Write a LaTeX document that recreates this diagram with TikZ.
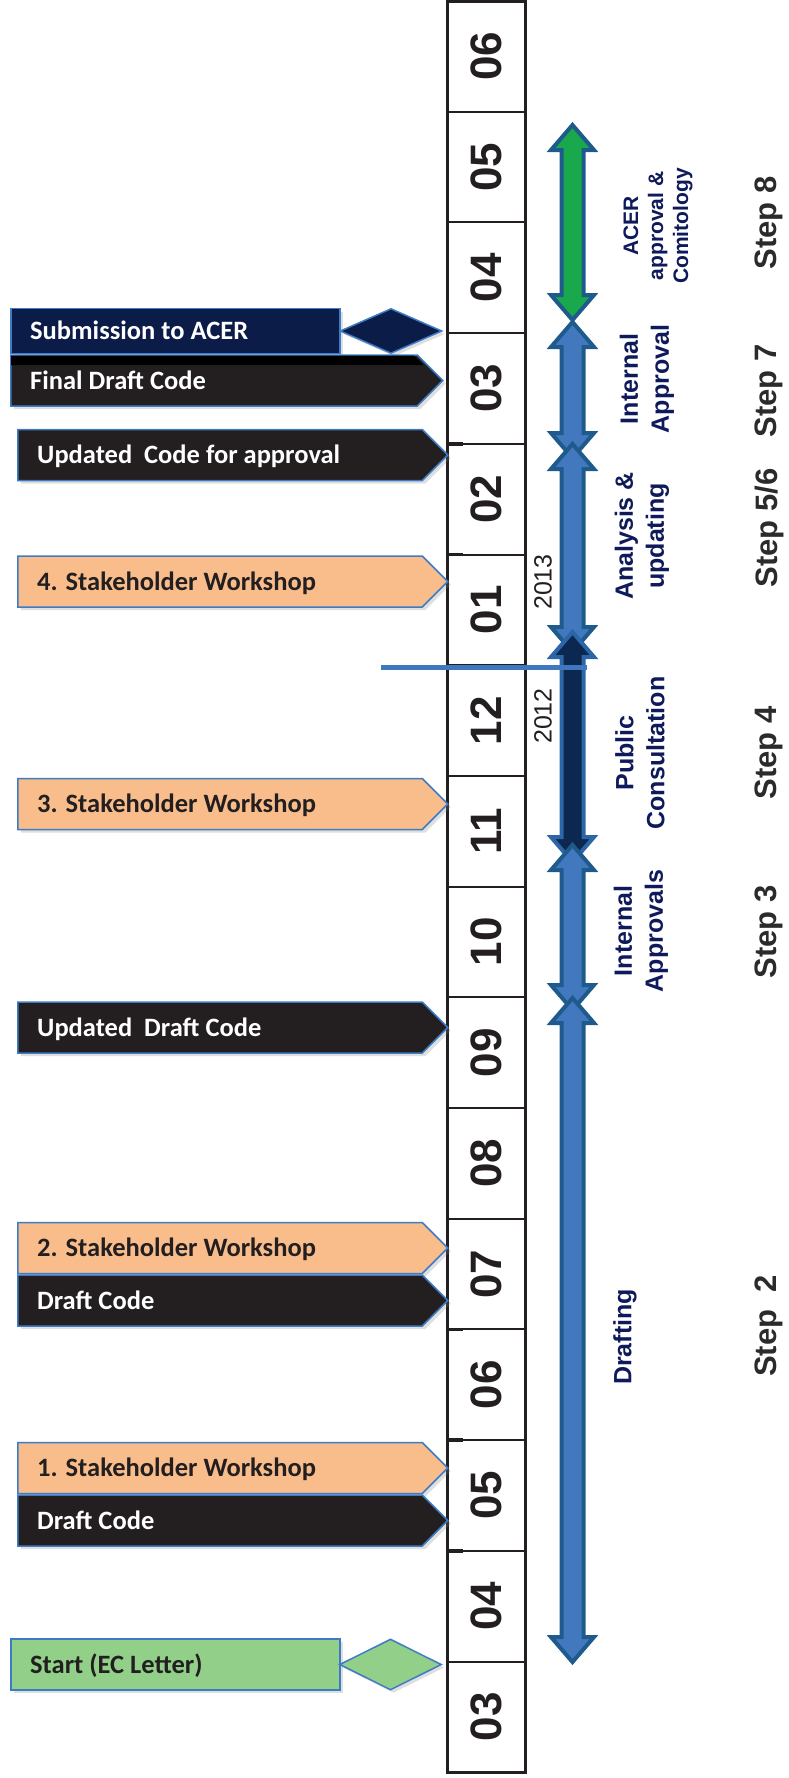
\documentclass[tikz,border=0pt]{standalone}
\usepackage{fontspec}
\setmainfont{Liberation Sans}
\newfontfamily\calloutfont{Carlito}
\usetikzlibrary{shapes.geometric,shapes.symbols,shadows}

\definecolor{edgeblue}{HTML}{3D7CC4}
\definecolor{peach}{HTML}{F8BD8B}
\definecolor{ink}{HTML}{231F20}
\definecolor{navybox}{HTML}{0B1C48}
\definecolor{startgreen}{HTML}{92D08A}
\definecolor{barblue}{HTML}{4279BE}
\definecolor{barrim}{HTML}{1F5A8D}
\definecolor{bargreen}{HTML}{19A84B}
\definecolor{barnavy}{HTML}{0C2850}
\definecolor{barnavyrim}{HTML}{2C66A6}
\definecolor{yearline}{HTML}{3F78BF}
\definecolor{phasetext}{HTML}{0F1A5A}
\definecolor{steptext}{HTML}{2B2B2B}

\tikzset{
  monthcell/.style={rectangle, draw=ink, line width=2, minimum width=110.7,
    minimum height=78, inner sep=0, rotate=90, text=ink,
    font=\bfseries\fontsize{44}{44}\selectfont},
  softshadow/.style={drop shadow={opacity=0.25, shadow xshift=3pt, shadow yshift=-3pt}},
  callout/.style={signal, signal to=east, signal from=nowhere, signal pointer angle=90,
    draw=edgeblue, line width=1.5, minimum height=51, inner sep=0, anchor=west, softshadow},
  plainbox/.style={rectangle, draw=edgeblue, line width=1.5, inner sep=0, anchor=west, softshadow},
  marker/.style={diamond, draw=edgeblue, line width=1.5, inner sep=0, minimum width=102, softshadow},
  ctext/.style={anchor=west, inner sep=0, text height=17, text depth=0,
    font=\calloutfont\bfseries\fontsize{26.5}{30}\selectfont},
  phase/.style={rotate=90, align=center, text=phasetext, inner sep=0,
    font=\bfseries\fontsize{25}{31}\selectfont},
  steplabel/.style={rotate=90, text=steptext, inner sep=0,
    font=\bfseries\fontsize{31}{31}\selectfont},
  yearlabel/.style={rotate=90, text=ink, inner sep=0,
    font=\fontsize{25}{25}\selectfont},
  pics/phasebar/.style={code={
    \path[pic actions] (0,0) -- (21.5,25) -- (11,25) -- (11,#1-25) -- (21.5,#1-25)
      -- (0,#1) -- (-21.5,#1-25) -- (-11,#1-25) -- (-11,25) -- (-21.5,25) -- cycle;
  }},
  bar/.style={line width=4, line join=miter},
}

\begin{document}
\begin{tikzpicture}[x=1pt,y=-1pt]
\useasboundingbox (0,0) rectangle (789,1778);

% month column, from June (top) back to March of the previous year
\foreach \m [count=\k from 0] in {06,05,04,03,02,01,12,11,10,09,08,07,06,05,04,03} {
  \node[monthcell] (m\k) at (486,{56.35+110.7*\k}) {\m};
}
\draw[ink, line width=3] (447,1) rectangle (525,1772.2);
\foreach \k in {4,5,12,13,14} {
  \draw[ink, line width=3.5] (447,{1+110.7*\k}) -- (463,{1+110.7*\k});
}

% milestones on the left
\node[plainbox, fill=navybox, minimum width=329, minimum height=45] (sub) at (10,331) {};
\node[marker, fill=navybox, minimum height=45] (subd) at (391,331) {};
\node[ctext, text=white, xshift=20] (subt) at (sub.west) {Submission to ACER};

\node[callout, fill=ink, minimum width=432] (fdc) at (10,380.5) {};
\fill[black] (11,355.5) -- (414,355.5) -- (423.5,365) -- (11,365) -- cycle;
\node[ctext, text=white, xshift=20] (fdct) at (fdc.west) {Final Draft Code};

\node[callout, fill=ink, minimum width=430] (uca) at (17,455) {};
\node[ctext, text=white, xshift=20] (ucat) at (uca.west) {Updated\ \ Code for approval};

\node[callout, fill=peach, minimum width=430] (sw4) at (17,581.5) {};
\node[ctext, text=ink, xshift=20] (sw4t) at (sw4.west) {4. Stakeholder Workshop};

\node[callout, fill=peach, minimum width=430] (sw3) at (17,804) {};
\node[ctext, text=ink, xshift=20] (sw3t) at (sw3.west) {3. Stakeholder Workshop};

\node[callout, fill=ink, minimum width=430] (udc) at (17,1027.5) {};
\node[ctext, text=white, xshift=20] (udct) at (udc.west) {Updated\ \ Draft Code};

\node[callout, fill=peach, minimum width=430] (sw2) at (17,1248) {};
\node[ctext, text=ink, xshift=20] (sw2t) at (sw2.west) {2. Stakeholder Workshop};

\node[callout, fill=ink, minimum width=430] (dc2) at (17,1300.5) {};
\node[ctext, text=white, xshift=20] (dc2t) at (dc2.west) {Draft Code};

\node[callout, fill=peach, minimum width=430] (sw1) at (17,1468) {};
\node[ctext, text=ink, xshift=20] (sw1t) at (sw1.west) {1. Stakeholder Workshop};

\node[callout, fill=ink, minimum width=430] (dc1) at (17,1520.5) {};
\node[ctext, text=white, xshift=20] (dc1t) at (dc1.west) {Draft Code};

\node[plainbox, fill=startgreen, minimum width=329, minimum height=51] (start) at (10,1664.5) {};
\node[marker, fill=startgreen, minimum height=51] (startd) at (390.5,1664.5) {};
\node[ctext, text=ink, xshift=20] (startt) at (start.west) {Start (EC Letter)};

% phase bars
\pic[bar, fill=bargreen, draw=barrim] (p8) at (572.5,125) {phasebar=195};
\pic[bar, fill=barblue, draw=barrim] (p7) at (572.5,322) {phasebar=136};
\pic[bar, fill=barblue, draw=barrim] (p56) at (572.5,444) {phasebar=208};
\pic[bar, fill=barnavy, draw=barnavyrim] (p4) at (572.5,632) {phasebar=230};
\pic[bar, fill=barblue, draw=barrim] (p3) at (572.5,845) {phasebar=165};
\pic[bar, fill=barblue, draw=barrim] (p2) at (572.5,998) {phasebar=664};

% year change
\coordinate (yl) at (381,667);
\coordinate (yr) at (587,667);
\draw[yearline, line width=5] (yl) -- (yr);
\node[yearlabel] (y13) at (543,582) {2013};
\node[yearlabel] (y12) at (543,716) {2012};

% phase names
\node[phase, font=\bfseries\fontsize{21}{25}\selectfont] (ph8) at (658,226) {ACER\\approval \&\\Comitology};
\node[phase] (ph7) at (647,379) {Internal\\Approval};
\node[phase] (ph56) at (642,536) {Analysis \&\\updating};
\node[phase] (ph4) at (640,753) {Public\\Consultation};
\node[phase] (ph3) at (641,931) {Internal\\Approvals};
\node[phase] (ph2) at (625,1337) {Drafting};

% step numbers
\node[steplabel] (s8) at (769,223) {Step 8};
\node[steplabel] (s7) at (769,391) {Step 7};
\node[steplabel] (s56) at (769,528) {Step 5/6};
\node[steplabel] (s4) at (769,753) {Step 4};
\node[steplabel] (s3) at (769,932) {Step 3};
\node[steplabel] (s2) at (769,1326) {Step\ \ 2};
\end{tikzpicture}
\end{document}
